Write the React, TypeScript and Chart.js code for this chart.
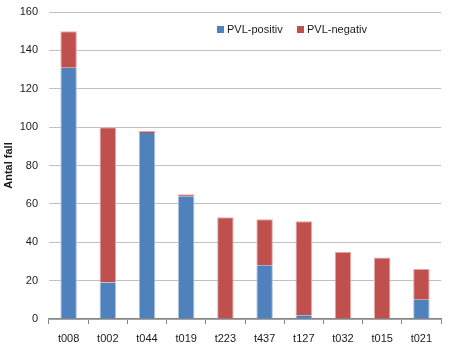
import React, { useEffect, useRef } from "react";
import { Chart, registerables } from "chart.js";

Chart.register(...registerables);

const categories = ["t008", "t002", "t044", "t019", "t223", "t437", "t127", "t032", "t015", "t021"];
const pvlPositiv = [131, 19, 97, 64, 0, 28, 2, 0, 0, 10];
const pvlNegativ = [19, 81, 1, 1, 53, 24, 49, 35, 32, 16];
const seriesNames = ["PVL-positiv", "PVL-negativ"];
const yTitle = "Antal fall";

const BLUE = "#4F81BD";
const RED = "#C0504D";
const FONT = "'Liberation Sans', Arial, sans-serif";

const legendPlugin = {
  id: "insideLegend",
  afterDraw(chart: any) {
    const ctx = chart.ctx;
    ctx.save();
    ctx.font = `11px ${FONT}`;
    ctx.textBaseline = "middle";
    ctx.textAlign = "left";
    const items = [
      { x: 217, color: BLUE, label: seriesNames[0] },
      { x: 297, color: RED, label: seriesNames[1] },
    ];
    for (const it of items) {
      ctx.fillStyle = it.color;
      ctx.fillRect(it.x, 26, 7, 7);
      ctx.fillStyle = "#1a1a1a";
      ctx.fillText(it.label, it.x + 10, 30);
    }
    ctx.restore();
  },
};

export default function App() {
  const ref = useRef<HTMLCanvasElement | null>(null);
  useEffect(() => {
    document.body.style.margin = "0";
    const chart = new Chart(ref.current as HTMLCanvasElement, {
      type: "bar",
      data: {
        labels: categories,
        datasets: [
          {
            label: seriesNames[0],
            data: pvlPositiv,
            backgroundColor: BLUE,
            borderColor: "#A9C0DF",
            borderWidth: { left: 1, right: 1, top: 0, bottom: 0 } as any,
            barPercentage: 0.42,
            categoryPercentage: 1,
          },
          {
            label: seriesNames[1],
            data: pvlNegativ,
            backgroundColor: RED,
            borderColor: "#E3A9A8",
            borderWidth: { left: 1, right: 1, top: 1, bottom: 0 } as any,
            barPercentage: 0.42,
            categoryPercentage: 1,
          },
        ],
      },
      options: {
        responsive: false,
        animation: false,
        layout: { padding: { top: 12, right: 8, left: 0, bottom: 0 } },
        plugins: { legend: { display: false }, tooltip: { enabled: false } },
        scales: {
          x: {
            stacked: true,
            grid: {
              display: true,
              drawOnChartArea: false,
              drawTicks: true,
              tickLength: 5,
              color: "#868686",
              offset: true,
            },
            border: { display: true, color: "#868686", width: 1.5 },
            ticks: {
              color: "#1a1a1a",
              font: { family: FONT, size: 11 },
              padding: 8,
              maxRotation: 0,
            },
            afterFit(scale: any) {
              scale.height = 33;
              scale.paddingLeft = 0;
              scale.paddingRight = 0;
            },
          },
          y: {
            stacked: true,
            min: 0,
            max: 160,
            grid: { color: "#C0C0C0", drawTicks: false, lineWidth: 1 },
            border: { display: false },
            ticks: {
              stepSize: 20,
              color: "#1a1a1a",
              font: { family: FONT, size: 11 },
              padding: 11,
            },
            title: {
              display: true,
              text: yTitle,
              color: "#1a1a1a",
              font: { family: FONT, size: 11, weight: "bold" },
              padding: { top: 2, bottom: 0 },
            },
            afterFit(scale: any) {
              scale.width = 49;
              scale.paddingTop = 0;
              scale.paddingBottom = 0;
            },
          },
        },
      },
      plugins: [legendPlugin],
    });
    return () => chart.destroy();
  }, []);
  return (
    <div style={{ width: 449, height: 352, background: "#fff" }}>
      <canvas ref={ref} width={449} height={352} style={{ display: "block" }} />
    </div>
  );
}
